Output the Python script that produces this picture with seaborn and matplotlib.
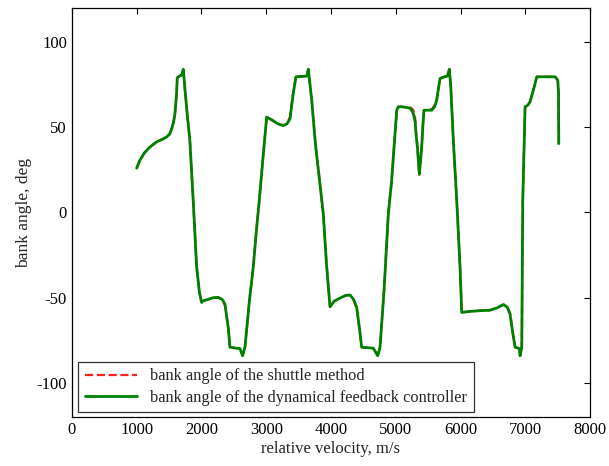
import numpy as np
import pandas as pd
import seaborn as sns
import matplotlib
matplotlib.use("Agg")
import matplotlib.pyplot as plt

# relative velocity (m/s) and bank angle (deg)
velocity = [1000, 1050, 1120, 1205, 1308, 1400, 1462, 1510, 1540, 1570, 1591, 1617, 1627, 1660, 1694, 1720,
            1745, 1780, 1822, 1873, 1926, 1970, 2003, 2020, 2100, 2180, 2260, 2320, 2363, 2414, 2440,
            2520, 2595, 2636, 2672, 2740, 2800, 2850, 2893, 2950, 3007, 3100, 3180, 3264, 3320, 3367,
            3418, 3459, 3540, 3624, 3650, 3702, 3760, 3820, 3881, 3930, 3985, 4050, 4150, 4230, 4293,
            4350, 4397, 4440, 4474, 4560, 4653, 4721, 4757, 4820, 4885, 4937, 4988, 5015, 5040, 5100,
            5169, 5230, 5271, 5300, 5313, 5335, 5348, 5364, 5382, 5400, 5420, 5436, 5500, 5555, 5600,
            5632, 5683, 5740, 5796, 5827, 5849, 5889, 5941, 5992, 6018, 6150, 6300, 6455, 6560, 6661,
            6720, 6764, 6815, 6842, 6880, 6908, 6919, 6945, 6960, 6996, 7040, 7073, 7124, 7177, 7300,
            7459, 7501, 7512, 7516]
bank_controller = [26, 30.6, 35, 38.4, 41.4, 43, 44.3, 46, 49, 53, 58, 70, 79, 80, 80.6, 84,
                   72.7, 58, 42, 7, -32, -47, -52.8, -52, -51, -50, -49.8, -51, -53.7, -67.5, -79,
                   -79.5, -79.8, -84, -79, -52, -32, -10, 7, 32, 56, 54, 52, 51, 52, 55,
                   70, 79.6, 79.8, 80, 84, 66, 40, 20, -0.8, -30, -55.3, -52, -50, -48.6, -48.4,
                   -51, -55.7, -68, -79, -79.3, -79.6, -84, -79, -45, -0.8, 19, 46, 60, 62, 62,
                   61.6, 61, 58, 53, 46, 38, 30.6, 22.7, 30, 38.4, 52, 60, 60, 60, 62,
                   66, 78.6, 79.5, 80, 84, 73.7, 42, 7, -32, -58.6, -58, -57.6, -57.3, -56, -54,
                   -55.5, -59.6, -73, -79, -79.5, -79.8, -84, -79, 7, 62, 63, 65, 71.8, 79.6, 79.6,
                   79.6, 77.6, 70, 40.4]
# shuttle method: almost identical, small offsets near the corners
bank_shuttle = [26, 30.6, 35, 38.4, 41.4, 43, 44.3, 46, 49, 53, 58, 70, 79, 80, 80.6, 84,
                72.7, 58, 42, 7, -32, -47, -52.8, -52, -51, -50, -49.8, -51, -54.5, -68, -79,
                -79.5, -79.8, -84, -79, -52, -32, -10, 7, 32, 56, 54, 52, 51, 52, 56,
                71, 79.6, 79.8, 80, 84, 66, 40, 20, -0.8, -30, -55.3, -52, -50, -48.6, -48.4,
                -51.5, -56.5, -69, -79, -79.3, -79.6, -84, -79, -45, -0.8, 19, 46, 60, 62, 62,
                61.6, 61.5, 60, 55, 47, 38, 30, 22, 30, 38.4, 52, 60, 60, 60.5, 63,
                66, 78.6, 79.5, 80, 84, 73.7, 42, 7, -32, -58.6, -58, -57.6, -57.3, -56, -54,
                -55, -59, -72.5, -79, -79.5, -79.8, -84, -79, 7, 62, 63, 65, 71.8, 79.6, 79.6,
                79.6, 77.6, 70, 40.4]

df = pd.DataFrame({"velocity": velocity,
                   "shuttle": bank_shuttle,
                   "controller": bank_controller})

sns.set_style("white")
plt.rcParams["font.family"] = ["Liberation Serif", "DejaVu Serif"]
plt.rcParams["font.size"] = 11.8
plt.rcParams["axes.unicode_minus"] = False

fig = plt.figure(figsize=(6.09, 4.66), dpi=100)
ax = fig.add_axes([0.118, 0.105, 0.851, 0.878])

sns.lineplot(data=df, x="velocity", y="shuttle", sort=False, estimator=None, ax=ax,
             color="#ff2020", linestyle="--", linewidth=1.6, label="bank angle of the shuttle method")
sns.lineplot(data=df, x="velocity", y="controller", sort=False, estimator=None, ax=ax,
             color="#008000", linewidth=2.0, label="bank angle of the dynamical feedback controller")

ax.set_xlim(0, 8000)
ax.set_ylim(-120, 120)
ax.set_xticks(range(0, 8001, 1000))
ax.set_yticks([-100, -50, 0, 50, 100])
ax.set_xlabel("relative velocity, m/s", fontsize=12, labelpad=2)
ax.set_ylabel("bank angle, deg", fontsize=12.6, labelpad=3)
ax.tick_params(direction="in", top=True, right=True, length=4, width=0.8,
               labelsize=12, colors="black")
for s in ax.spines.values():
    s.set_color("black")
    s.set_linewidth(0.9)

leg = ax.legend(loc="lower left", bbox_to_anchor=(0.012, 0.012), fontsize=11.8,
                handlelength=3.2, frameon=True, fancybox=False, borderpad=0.4,
                labelspacing=0.32, borderaxespad=0)
leg.get_frame().set_edgecolor("black")
leg.get_frame().set_linewidth(0.9)

fig.savefig("out.png", dpi=100)
